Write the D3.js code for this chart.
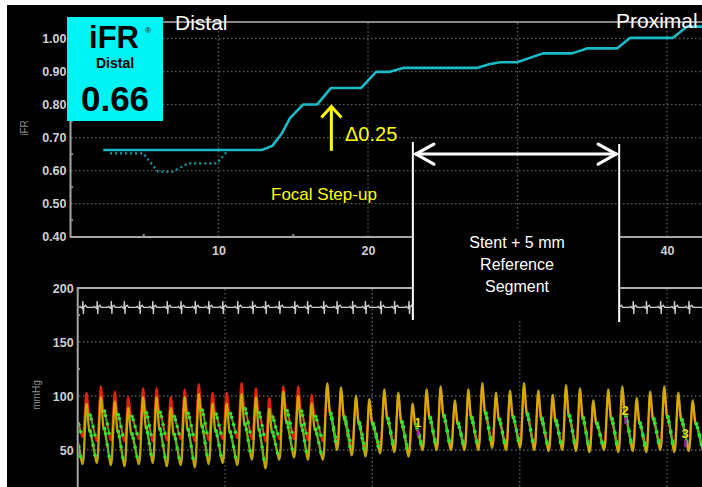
<!DOCTYPE html>
<html><head><meta charset="utf-8">
<script src="https://cdn.jsdelivr.net/npm/d3@7"></script>
<style>html,body{margin:0;padding:0;background:#fff;} svg{display:block;}</style>
</head><body><svg id="c" width="702" height="487"></svg>
<script>
// ---------- DATA ----------
// Top panel: iFR pullback curve (x = pullback position, y = iFR)
const iFRx = [2.29, 12.9, 13.6, 14.2, 14.78, 15.65, 16.59, 17.51, 19.53, 20.54, 21.47, 22.34, 27.29, 28.1, 28.83, 29.97, 31.71, 33.65, 34.65, 36.66, 37.53, 40.4, 41.34, 42.34];
const iFRy = [0.6625, 0.6625, 0.675, 0.71, 0.759, 0.80, 0.80, 0.850, 0.850, 0.899, 0.899, 0.911, 0.911, 0.922, 0.928, 0.928, 0.955, 0.955, 0.970, 0.970, 1.002, 1.002, 1.036, 1.036];
// dotted (raw) iFR trace at distal end
const rawX = [2.74, 4.95, 5.95, 6.96, 7.96, 9.9, 10.64];
const rawY = [0.6525, 0.6525, 0.597, 0.597, 0.622, 0.622, 0.6625];
const yTopTicks = [0.40, 0.50, 0.60, 0.70, 0.80, 0.90, 1.00];
const xTopTicks = [10, 20, 30, 40];
const xTopLabels = [10, 20, 40]; // "30" is hidden behind the reference-segment box
const yLowTicks = [50, 100, 150, 200];

// Bottom panel: per-beat pressure values (mmHg)
const beatTimes = [-0.35, 0.61, 1.58, 2.53, 3.44, 4.45, 5.36, 6.33, 7.27, 8.23, 9.16, 10.12, 11.13, 12.11, 13.01, 13.96, 14.98, 15.89, 16.95, 17.88, 18.90, 19.80, 20.82, 21.77, 22.74, 23.69, 24.64, 25.61, 26.52, 27.47, 28.40, 29.35, 30.30, 31.27, 32.25, 33.15, 34.10, 35.00, 36.02, 36.97, 37.95, 38.86, 39.82, 40.77, 41.75];
const paPeak = [100, 103, 109, 104, 99, 107, 107, 99, 106, 111, 103, 103, 112, 107, 98, 109, 109, 101, 109, 105, 97, 94, 102, 100, 90, 102, 105, 93, 102, 108, 99, 101, 108, 101, 97, 106, 103, 93, 102, 105, 95, 100, 105, 99, 93];
const pdPeak = [90, 93, 99, 95, 89, 99, 99, 89, 99, 102, 93, 93, 102, 99, 88, 104, 100, 93, 112, 108, 100, 97, 106, 103, 93, 106, 109, 96, 106, 112, 103, 105, 112, 105, 101, 110, 107, 96, 106, 109, 98, 104, 109, 103, 96];
const paMin = [62, 58, 59, 58, 60, 58, 59, 60, 58, 59, 60, 61, 60, 58, 60, 60, 59, 58, 55, 52, 50, 52, 52, 48, 53, 53, 52, 53, 52, 55, 53, 55, 52, 51, 52, 52, 51, 52, 51, 52, 51, 53, 51, 52, 52];
const pdMin = [37, 38, 36, 35, 37, 38, 35, 36, 34, 37, 38, 36, 41, 33, 41, 43, 41, 41, 50, 45, 44, 47, 48, 44, 50, 50, 50, 50, 50, 52, 50, 52, 50, 49, 50, 49, 48, 50, 48, 49, 48, 50, 48, 49, 49];
// beat morphology: [phase (fraction of beat), level (0 = trough, 1 = peak)]
const beatShape = [[-0.30, 0.00], [-0.22, 0.10], [-0.12, 0.60], [-0.05, 0.93], [0.00, 1.00], [0.06, 0.86], [0.14, 0.62], [0.20, 0.52], [0.25, 0.54], [0.32, 0.46], [0.45, 0.30], [0.58, 0.13], [0.70, 0.00]];
const greenFrom = 8;   // wave-free (green) window: beatShape[8..11]
const greenTo = 12;
// ECG morphology: [phase, offset in display units]
const ecgShape = [[-0.55, 0], [-0.46, 1], [-0.40, 0], [-0.30, -1], [-0.27, 6], [-0.23, -6], [-0.20, 0.5], [-0.08, 2], [0.02, 0]];
const ecgBase = 182;
// markers on tracing
const markLabels = ["1", "2", "3"];
const markX = [23.08, 37.16, 41.23];
const markY = [76, 87, 65.7];

// ---------- DRAW ----------
const svg = d3.select("#c");
const F = "'Liberation Sans', Arial, Helvetica, sans-serif";
svg.append("rect").attr("x", 7).attr("y", 5).attr("width", 695).attr("height", 482).attr("fill", "#000");

const xTop = d3.scaleLinear().domain([0, 42.34]).range([69, 702]);
const yTop = d3.scaleLinear().domain([0.4, 1.0]).range([236.7, 38.5]);
const xLow = d3.scaleLinear().domain([0, 42.37]).range([77.7, 702]);
const yLow = d3.scaleLinear().domain([50, 200]).range([450, 288]);

const gridCol = "#5c5c5c", axisCol = "#a6a6a6", labCol = "#d0d0d0";

// ----- top grid
const gt = svg.append("g");
gt.selectAll("line.h").data(yTopTicks.filter(d => d > 0.41)).join("line")
  .attr("x1", 71).attr("x2", 702).attr("y1", d => yTop(d)).attr("y2", d => yTop(d))
  .attr("stroke", gridCol).attr("stroke-width", 1.3).attr("stroke-dasharray", "1.5,2.5");
gt.selectAll("line.v").data(xTopTicks).join("line")
  .attr("x1", d => xTop(d)).attr("x2", d => xTop(d)).attr("y1", 23).attr("y2", 236)
  .attr("stroke", gridCol).attr("stroke-width", 1.3).attr("stroke-dasharray", "1.5,2.5");

// top frame + axes lines
svg.append("line").attr("x1", 70.5).attr("x2", 702).attr("y1", 22).attr("y2", 22).attr("stroke", "#b4b4b4").attr("stroke-width", 1.6);
svg.append("line").attr("x1", 70.5).attr("x2", 70.5).attr("y1", 22).attr("y2", 237.5).attr("stroke", axisCol).attr("stroke-width", 2);
svg.append("line").attr("x1", 70).attr("x2", 702).attr("y1", 237).attr("y2", 237).attr("stroke", axisCol).attr("stroke-width", 2);
// minor ticks
svg.selectAll("rect.myt").data([0.45, 0.55, 0.65, 0.75, 0.85, 0.95]).join("rect")
  .attr("x", 71).attr("y", d => yTop(d) - 1).attr("width", 2).attr("height", 2).attr("fill", "#8a8a8a");
svg.selectAll("rect.mxt").data([5, 15, 25, 35]).join("rect")
  .attr("x", d => xTop(d) - 1).attr("y", 234).attr("width", 2).attr("height", 2).attr("fill", "#8a8a8a");

const ayTop = svg.append("g").attr("transform", "translate(70.5,0)")
  .call(d3.axisLeft(yTop).tickValues(yTopTicks).tickFormat(d3.format(".2f")).tickSize(0).tickPadding(4));
const axTop = svg.append("g").attr("transform", "translate(0,237)")
  .call(d3.axisBottom(xTop).tickValues(xTopLabels).tickFormat(d3.format("d")).tickSize(0).tickPadding(9));
[ayTop, axTop].forEach(g => {
  g.select(".domain").remove();
  g.selectAll("text").attr("fill", labCol).attr("font-family", F).attr("font-weight", "bold").attr("font-size", 12.5);
});

// y label top
svg.append("text").attr("transform", "translate(28,128) rotate(-90)").attr("text-anchor", "middle")
  .attr("font-family", F).attr("font-size", 10).attr("fill", "#8c8c8c").text("iFR");

// iFR curves
const lineTop = d3.line().x(d => xTop(d[0])).y(d => yTop(d[1]));
svg.append("path").attr("d", lineTop(rawX.map((x, i) => [x, rawY[i]])))
  .attr("fill", "none").attr("stroke", "#14959b").attr("stroke-width", 2.2).attr("stroke-dasharray", "2.2,2.8");
svg.append("path").attr("d", lineTop(iFRx.map((x, i) => [x, iFRy[i]])))
  .attr("fill", "none").attr("stroke", "#1cbac6").attr("stroke-width", 2.6).attr("stroke-linejoin", "round");

// ----- bottom panel grid
const gl = svg.append("g");
gl.selectAll("line.h").data([50, 100, 150]).join("line")
  .attr("x1", 79).attr("x2", 702).attr("y1", d => yLow(d)).attr("y2", d => yLow(d))
  .attr("stroke", gridCol).attr("stroke-width", 1.3).attr("stroke-dasharray", "1.5,2.5");
gl.selectAll("line.v").data(xTopTicks).join("line")
  .attr("x1", d => xLow(d)).attr("x2", d => xLow(d)).attr("y1", 289).attr("y2", 487)
  .attr("stroke", gridCol).attr("stroke-width", 1.3).attr("stroke-dasharray", "1.5,2.5");
svg.append("line").attr("x1", 77.7).attr("x2", 702).attr("y1", 288).attr("y2", 288).attr("stroke", "#b0b0b0").attr("stroke-width", 1.8);
svg.append("line").attr("x1", 77.7).attr("x2", 77.7).attr("y1", 287).attr("y2", 487).attr("stroke", axisCol).attr("stroke-width", 2);
svg.selectAll("rect.myl").data([75, 125, 175]).join("rect")
  .attr("x", 78).attr("y", d => yLow(d) - 1).attr("width", 2).attr("height", 2).attr("fill", "#8a8a8a");
const ayLow = svg.append("g").attr("transform", "translate(77.7,0)")
  .call(d3.axisLeft(yLow).tickValues(yLowTicks).tickFormat(d3.format("d")).tickSize(0).tickPadding(4));
ayLow.select(".domain").remove();
ayLow.selectAll("text").attr("fill", labCol).attr("font-family", F).attr("font-weight", "bold").attr("font-size", 12.5);
svg.append("text").attr("transform", "translate(40,395) rotate(-90)").attr("text-anchor", "middle")
  .attr("font-family", F).attr("font-size", 10).attr("fill", "#8c8c8c").text("mmHg");

// clip for traces
svg.append("clipPath").attr("id", "clipLow").append("rect").attr("x", 79).attr("y", 289).attr("width", 623).attr("height", 198);
const gw = svg.append("g").attr("clip-path", "url(#clipLow)");

const lineLow = d3.line().x(d => xLow(d[0])).y(d => yLow(d[1])).curve(d3.curveMonotoneX);

// ECG
const ecgPts = [];
beatTimes.forEach((t, i) => {
  const T = i < beatTimes.length - 1 ? beatTimes[i + 1] - t : t - beatTimes[i - 1];
  ecgShape.forEach(s => ecgPts.push([t + s[0] * T, ecgBase + s[1]]));
});
ecgPts.push([42.5, ecgBase]);
gw.append("path").attr("d", d3.line().x(d => xLow(d[0])).y(d => yLow(d[1]))(ecgPts))
  .attr("fill", "none").attr("stroke", "#d0d0d0").attr("stroke-width", 1.3);

// pressure traces
function beatPoints(peaks, mins, i, from, to) {
  const t = beatTimes[i];
  const n = beatTimes.length;
  const Tn = i < n - 1 ? beatTimes[i + 1] - t : t - beatTimes[i - 1];
  const Tp = i > 0 ? t - beatTimes[i - 1] : Tn;
  const startMin = i > 0 ? mins[i - 1] : mins[i];
  return beatShape.slice(from, to).map(s => {
    const base = s[0] < 0 ? startMin : mins[i];
    const T = s[0] < 0 ? Tp : Tn;
    return [t + s[0] * T, base + s[1] * (peaks[i] - base)];
  });
}
function tracePoints(peaks, mins) {
  let pts = [];
  beatTimes.forEach((t, i) => { pts = pts.concat(beatPoints(peaks, mins, i, 0, beatShape.length)); });
  return pts;
}
gw.append("path").attr("d", lineLow(tracePoints(paPeak, paMin)))
  .attr("fill", "none").attr("stroke", "#e0200c").attr("stroke-width", 2.2);
gw.append("path").attr("d", lineLow(tracePoints(pdPeak, pdMin)))
  .attr("fill", "none").attr("stroke", "#d6bc00").attr("stroke-width", 2.3).attr("stroke-opacity", 0.88);

// green wave-free window
[[paPeak, paMin], [pdPeak, pdMin]].forEach(([pk, mn]) => {
  beatTimes.forEach((t, i) => {
    const pts = beatPoints(pk, mn, i, greenFrom, greenTo);
    gw.append("path").attr("d", lineLow(pts)).attr("fill", "none").attr("stroke", "#22c822").attr("stroke-width", 1.3).attr("stroke-opacity", 0.85);
    gw.selectAll(null).data(pts).join("circle")
      .attr("cx", d => xLow(d[0])).attr("cy", d => yLow(d[1])).attr("r", 1.8).attr("fill", "#36e236");
  });
});

// markers
markLabels.forEach((m, i) => {
  svg.append("rect").attr("x", xLow(markX[i]) - 1).attr("y", yLow(markY[i]) + 7).attr("width", 2.5).attr("height", 7).attr("fill", "#a020b0");
  svg.append("text").attr("x", xLow(markX[i])).attr("y", yLow(markY[i]) + 5).attr("text-anchor", "middle")
    .attr("font-family", F).attr("font-weight", "bold").attr("font-size", 13).attr("fill", "#eedc10")
    .attr("stroke", "#000").attr("stroke-width", 0.6).attr("paint-order", "stroke").text(m);
});

// ----- annotations
// black box covering axis / ECG in reference segment
svg.append("rect").attr("x", xTop(23.0)).attr("y", 231).attr("width", xTop(36.8) - xTop(23.0)).attr("height", 90).attr("fill", "#000");
const wx1 = xTop(23.0), wx2 = xTop(36.8), wy = yTop(0.65);
svg.append("line").attr("x1", wx1).attr("x2", wx1).attr("y1", 142).attr("y2", 320).attr("stroke", "#fff").attr("stroke-width", 2);
svg.append("line").attr("x1", wx2).attr("x2", wx2).attr("y1", 144).attr("y2", 322).attr("stroke", "#fff").attr("stroke-width", 2);
svg.append("line").attr("x1", wx1 + 2).attr("x2", wx2 - 2).attr("y1", wy).attr("y2", wy).attr("stroke", "#fff").attr("stroke-width", 3);
svg.append("path").attr("d", `M${wx1 + 21},${wy - 10} L${wx1 + 3},${wy} L${wx1 + 21},${wy + 10}`)
  .attr("fill", "none").attr("stroke", "#fff").attr("stroke-width", 3.2).attr("stroke-linecap", "round");
svg.append("path").attr("d", `M${wx2 - 21},${wy - 10} L${wx2 - 3},${wy} L${wx2 - 21},${wy + 10}`)
  .attr("fill", "none").attr("stroke", "#fff").attr("stroke-width", 3.2).attr("stroke-linecap", "round");
const boxTxt = ["Stent + 5 mm", "Reference", "Segment"];
svg.selectAll("text.bt").data(boxTxt).join("text")
  .attr("x", (wx1 + wx2) / 2 + 1).attr("y", (d, i) => 248 + i * 22).attr("text-anchor", "middle")
  .attr("font-family", F).attr("font-size", 16).attr("fill", "#fff").text(d => d);

// yellow arrow
const ax = xTop(17.55), ay1 = yTop(0.66), ay2 = yTop(0.797);
svg.append("line").attr("x1", ax).attr("x2", ax).attr("y1", ay1).attr("y2", ay2 + 2).attr("stroke", "#ffff00").attr("stroke-width", 3);
svg.append("path").attr("d", `M${ax - 10},${ay2 + 12} L${ax},${ay2 + 1} L${ax + 10},${ay2 + 12}`)
  .attr("fill", "none").attr("stroke", "#ffff00").attr("stroke-width", 3);
svg.append("text").attr("x", 345).attr("y", 141).attr("font-family", F).attr("font-size", 20).attr("fill", "#ffff00").text("Δ0.25");
svg.append("text").attr("x", 271).attr("y", 200).attr("font-family", F).attr("font-size", 17).attr("fill", "#ffff00").text("Focal Step-up");

// Distal / Proximal labels
svg.append("text").attr("x", 175).attr("y", 30).attr("font-family", F).attr("font-size", 21).attr("fill", "#fff").text("Distal");
svg.append("text").attr("x", 616).attr("y", 28).attr("font-family", F).attr("font-size", 21).attr("fill", "#fff").text("Proximal");

// cyan iFR box
svg.append("rect").attr("x", 67).attr("y", 17).attr("width", 96).attr("height", 104).attr("fill", "#00f4f4");
svg.append("text").attr("x", 114).attr("y", 48).attr("text-anchor", "middle").attr("font-family", F).attr("font-weight", "bold").attr("font-size", 31).attr("fill", "#000").text("iFR");
svg.append("text").attr("x", 148).attr("y", 33).attr("text-anchor", "middle").attr("font-family", F).attr("font-size", 8).attr("fill", "#000").text("®");
svg.append("text").attr("x", 115).attr("y", 68).attr("text-anchor", "middle").attr("font-family", F).attr("font-weight", "bold").attr("font-size", 14).attr("fill", "#000").text("Distal");
svg.append("text").attr("x", 115).attr("y", 111).attr("text-anchor", "middle").attr("font-family", F).attr("font-weight", "bold").attr("font-size", 35).attr("fill", "#000").text("0.66");
</script></body></html>
